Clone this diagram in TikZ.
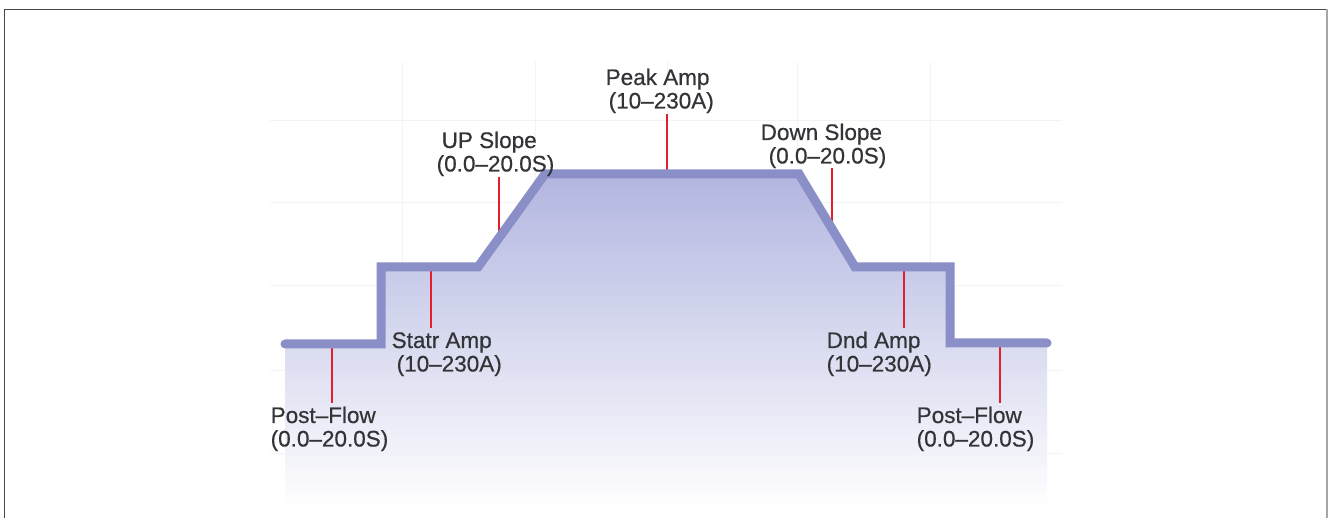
\documentclass[tikz,border=0pt]{standalone}
\usepackage{fontspec}
\setmainfont{Liberation Sans}
\newfontfamily\lblfont[FakeBold=0.5]{Liberation Sans}
\definecolor{profblue}{RGB}{138,143,200}
\definecolor{filltop}{RGB}{178,182,224}
\definecolor{fillmid}{RGB}{231,232,244}
\definecolor{tickred}{RGB}{228,30,42}
\definecolor{txtgray}{RGB}{50,52,55}
\definecolor{gridgray}{RGB}{243,243,243}
\begin{document}
\begin{tikzpicture}[x=1pt,y=-1pt,
  lbl/.style={anchor=base west, inner sep=0pt, text=txtgray, font=\lblfont\fontsize{22.5}{23.5}\selectfont},
  tick/.style={draw=tickred, line width=2.5pt},
  profile/.style={draw=profblue, line width=9pt, line join=miter, line cap=round},
  gridline/.style={draw=gridgray, line width=0.9pt},
  frameline/.style={line width=1.5pt}]
\useasboundingbox (0,0) rectangle (1328,518);
\fill[white] (0,0) rectangle (1328,518);
% frame
\draw[frameline, draw=black!72] (4.5,530) -- (4.5,9.5) -- (1327.2,9.5);
\draw[frameline, draw=black!35] (1327.2,9.5) -- (1327.2,530);
% grid
\foreach \gy in {120,202,285,370,453} \draw[gridline] (270,\gy) -- (1062,\gy);
\foreach \gx in {402,535,667,797,930} \draw[gridline] (\gx,62) -- (\gx,510);
% profile points
\coordinate (p0) at (285,344);
\coordinate (p1) at (381,344);
\coordinate (p2) at (381,267);
\coordinate (p3) at (478,267);
\coordinate (p4) at (545,174);
\coordinate (p5) at (799,174);
\coordinate (p6) at (855,267);
\coordinate (p7) at (950,267);
\coordinate (p8) at (950,343);
\coordinate (p9) at (1047,343);
\coordinate (b0) at (1047,510);
\coordinate (b1) at (285,510);
% fill
\shade[top color=filltop, middle color=fillmid, bottom color=white]
  (p0) -- (p1) -- (p2) -- (p3) -- (p4) -- (p5) -- (p6) -- (p7) -- (p8) -- (p9) -- (b0) -- (b1) -- cycle;
% tick coordinates
\coordinate (tpl1) at (332,348); \coordinate (tpl2) at (332,403);
\coordinate (tst1) at (431,271); \coordinate (tst2) at (431,328);
\coordinate (tup1) at (499,177); \coordinate (tup2) at (499,235);
\coordinate (tpk1) at (667,114); \coordinate (tpk2) at (667,172);
\coordinate (tdn1) at (832,168); \coordinate (tdn2) at (832,227);
\coordinate (tdd1) at (904,270); \coordinate (tdd2) at (904,328);
\coordinate (tpr1) at (1000,347); \coordinate (tpr2) at (1000,403);
\draw[tick] (tpl1) -- (tpl2);
\draw[tick] (tst1) -- (tst2);
\draw[tick] (tup1) -- (tup2);
\draw[tick] (tpk1) -- (tpk2);
\draw[tick] (tdn1) -- (tdn2);
\draw[tick] (tdd1) -- (tdd2);
\draw[tick] (tpr1) -- (tpr2);
% profile line
\draw[profile] (p0) -- (p1) -- (p2) -- (p3) -- (p4) -- (p5) -- (p6) -- (p7) -- (p8) -- (p9);
% labels
\node[lbl] (peak) at (605.5,85) {\begin{tabular}[t]{@{}l@{}}Peak Amp\\\hspace*{3pt}(10–230A)\end{tabular}};
\node[lbl] (upslope) at (436.5,148) {\begin{tabular}[t]{@{}l@{}}\hspace*{5pt}UP Slope\\(0.0–20.0S)\end{tabular}};
\node[lbl] (downslope) at (760.5,140) {\begin{tabular}[t]{@{}l@{}}Down Slope\\\hspace*{8pt}(0.0–20.0S)\end{tabular}};
\node[lbl] (statr) at (391.5,348) {\begin{tabular}[t]{@{}l@{}}Statr Amp\\\hspace*{5pt}(10–230A)\end{tabular}};
\node[lbl] (postl) at (270.5,423) {\begin{tabular}[t]{@{}l@{}}Post–Flow\\(0.0–20.0S)\end{tabular}};
\node[lbl] (dnd) at (826.5,348) {\begin{tabular}[t]{@{}l@{}}Dnd Amp\\(10–230A)\end{tabular}};
\node[lbl] (postr) at (916.5,423) {\begin{tabular}[t]{@{}l@{}}Post–Flow\\(0.0–20.0S)\end{tabular}};
\end{tikzpicture}
\end{document}
